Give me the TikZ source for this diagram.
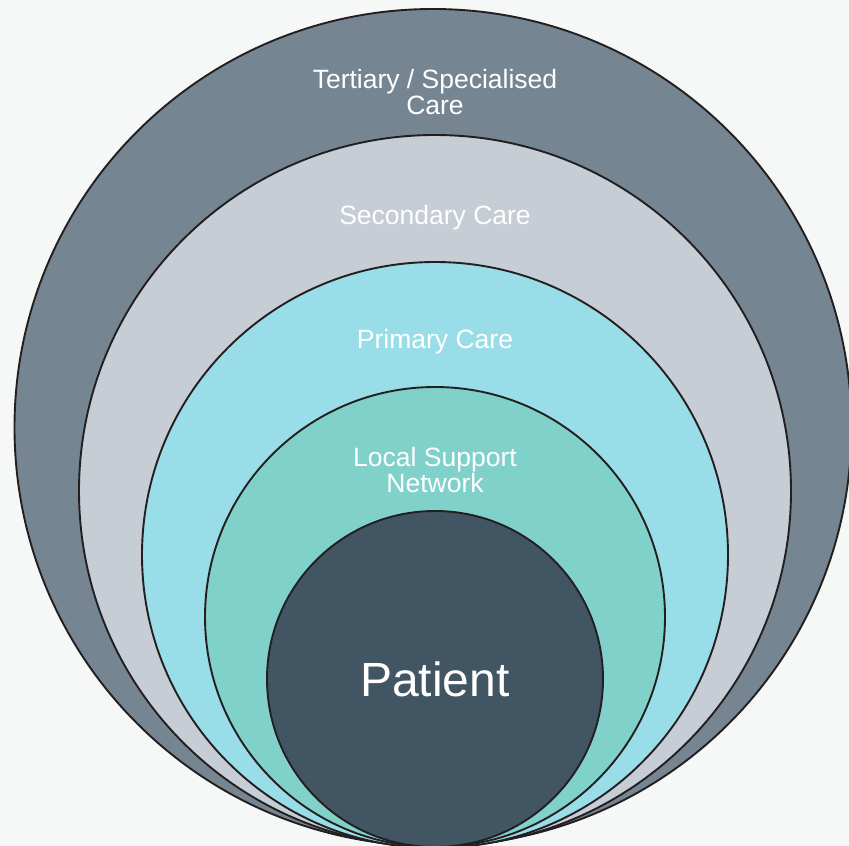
\documentclass[tikz,border=0pt]{standalone}
\usepackage{fontspec}
\setmainfont{Liberation Sans}
\definecolor{bgc}{HTML}{F6F8F7}
\definecolor{edge}{HTML}{231F20}
\definecolor{tertiary}{HTML}{768592}
\definecolor{secondary}{HTML}{C7CDD4}
\definecolor{primary}{HTML}{99DDE9}
\definecolor{localnet}{HTML}{80D1C9}
\definecolor{patient}{HTML}{415563}
\begin{document}
\begin{tikzpicture}[x=1pt,y=-1pt,
  ring/.style={draw=edge,line width=1.9pt},
  lbl/.style={text=white,align=center,font=\fontsize{26.5}{26}\selectfont,inner sep=0pt}]
\useasboundingbox[fill=bgc] (0,0) rectangle (849,846);
\begin{scope}
\clip (0,0) rectangle (849,846);
\draw[ring,fill=tertiary] (433,427.5) circle (418.5);
\draw[ring,fill=secondary] (435,491) circle (356);
\draw[ring,fill=primary] (435,555) circle (293);
\draw[ring,fill=localnet] (435,617) circle (230);
\draw[ring,fill=patient] (435,679) circle (168);
\end{scope}
\node[lbl] (t) at (435,92.5) {Tertiary / Specialised\\Care};
\node[lbl] (s) at (435,218) {Secondary Care};
\node[lbl] (p) at (435,342) {Primary Care};
\node[lbl] (l) at (435,470) {Local Support\\Network};
\node[lbl,font=\fontsize{48}{56}\selectfont] (pt) at (435,679) {Patient};
\end{tikzpicture}
\end{document}
